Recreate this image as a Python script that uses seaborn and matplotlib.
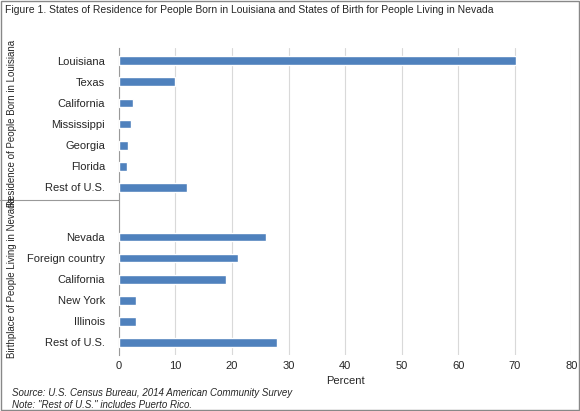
import matplotlib
matplotlib.use("Agg")
import matplotlib.pyplot as plt
import seaborn as sns
import pandas as pd

la_states = ["Louisiana", "Texas", "California", "Mississippi", "Georgia", "Florida", "Rest of U.S."]
la_values = [70.2, 9.9, 2.5, 2.2, 1.6, 1.5, 12.0]
nv_states = ["Nevada", "Foreign country", "California", "New York", "Illinois", "Rest of U.S."]
nv_values = [26.0, 21.0, 19.0, 3.0, 3.0, 28.0]
x_ticks = [0, 10, 20, 30, 40, 50, 60, 70, 80]

pos = list(range(7)) + [8.35 + i for i in range(6)]
df = pd.DataFrame({"pos": pos, "val": la_values + nv_values})
labels = la_states + nv_states

sns.set_style("white")
plt.rcParams["font.family"] = ["Liberation Sans", "DejaVu Sans"]
fig = plt.figure(figsize=(5.8, 4.11), dpi=100)
ax = fig.add_axes([0.205, 0.136, 0.78, 0.747])
sns.barplot(data=df, x="val", y="pos", orient="h", native_scale=True,
            color="#4F81BD", saturation=1, width=0.42, ax=ax, zorder=3)
ax.set_yticks(pos)
ax.set_yticklabels(labels, fontsize=8)
ax.set_ylim(13.95, -0.6)
ax.set_xlim(0, 80)
ax.set_xticks(x_ticks)
ax.tick_params(axis="x", labelsize=8, length=0, pad=4)
ax.tick_params(axis="y", length=0, pad=10)
ax.grid(axis="x", color="#d9d9d9", linewidth=0.8, zorder=0)
for s in ["top", "right", "bottom"]:
    ax.spines[s].set_visible(False)
ax.spines["left"].set_color("#999999")
ax.set_xlabel("Percent", fontsize=8)
ax.set_ylabel("")

fig.text(0.008, 0.975, "Figure 1. States of Residence for People Born in Louisiana and States of Birth for People Living in Nevada",
         fontsize=7.5, va="center")
fig.text(0.02, 0.70, "Residence of People Born in Louisiana", rotation=90, fontsize=7, ha="center", va="center")
fig.text(0.02, 0.325, "Birthplace of People Living in Nevada", rotation=90, fontsize=7, ha="center", va="center")
fig.add_artist(plt.Line2D([0.0, 0.205], [0.513, 0.513], color="#999999", lw=0.8))
fig.text(0.02, 0.045, "Source: U.S. Census Bureau, 2014 American Community Survey", fontsize=7, style="italic", va="center")
fig.text(0.02, 0.015, 'Note: "Rest of U.S." includes Puerto Rico.', fontsize=7, style="italic", va="center")
fig.add_artist(plt.Rectangle((0.002, 0.002), 0.996, 0.996, fill=False, ec="#888888", lw=1, transform=fig.transFigure))
fig.savefig("out.png", dpi=100)
